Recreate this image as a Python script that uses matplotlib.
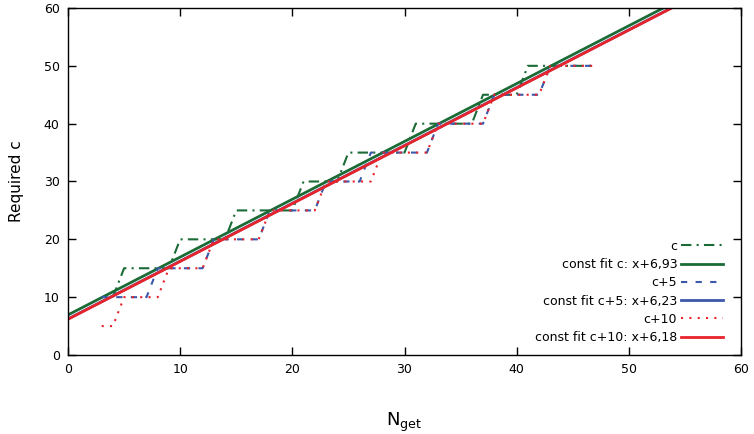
import matplotlib
matplotlib.use('Agg')
import matplotlib.pyplot as plt
import numpy as np

# corner points of the step curves (N_get, required c)
x_c = [4, 5, 9, 10, 14, 15, 20, 21, 24, 25, 30, 31, 36, 37, 40, 41, 47]
y_c = [10, 15, 15, 20, 20, 25, 25, 30, 30, 35, 35, 40, 40, 45, 45, 50, 50]

x_c5 = [3, 7, 8, 12, 13, 17, 18, 22, 23, 26, 27, 32, 33, 37, 38, 42, 43, 47]
y_c5 = [10, 10, 15, 15, 20, 20, 25, 25, 30, 30, 35, 35, 40, 40, 45, 45, 50, 50]

x_c10 = [3, 4, 5, 8, 9, 12, 13, 17, 18, 22, 23, 27, 28, 32, 33, 37, 38, 42, 43, 47]
y_c10 = [5, 5, 10, 10, 15, 15, 20, 20, 25, 25, 30, 30, 35, 35, 40, 40, 45, 45, 50, 50]

# constant fits y = x + b
fit_c = 6.93
fit_c5 = 6.23
fit_c10 = 6.18

GREEN = '#1b6b36'
BLUE = '#3b58ab'
RED = '#e8232b'

plt.rcParams['font.family'] = 'DejaVu Sans'

fig = plt.figure(figsize=(7.54, 4.34), dpi=100)
ax = fig.add_axes([68/754, 79/434, 673/754, 347/434])

xf = np.array([0, 60])
lw = 1.5

ax.plot(x_c, y_c, color=GREEN, lw=lw, ls=(0, (5, 2.5, 1, 2.5)), label='c')
ax.plot(xf, xf + fit_c, color=GREEN, lw=2, label='const fit c: x+6,93')
ax.plot(x_c5, y_c5, color=BLUE, lw=lw, ls=(0, (3, 4)), label='c+5')
ax.plot(xf, xf + fit_c5, color=BLUE, lw=2, label='const fit c+5: x+6,23')
ax.plot(x_c10, y_c10, color=RED, lw=lw, ls=(0, (1, 3)), label='c+10')
ax.plot(xf, xf + fit_c10, color=RED, lw=2, label='const fit c+10: x+6,18')

ax.set_xlim(0, 60)
ax.set_ylim(0, 60)
ax.set_xticks(range(0, 61, 10))
ax.set_yticks(range(0, 61, 10))
ax.tick_params(direction='in', length=6, width=1, top=True, right=True,
               labelsize=9, pad=6)
for s in ax.spines.values():
    s.set_linewidth(1)

ax.set_xlabel(r'N$_\mathregular{get}$', fontsize=13, labelpad=25)
ax.set_ylabel('Required c', fontsize=11, labelpad=14)

ax.legend(loc='lower right', bbox_to_anchor=(0.985, 0.01), frameon=False,
          markerfirst=False, fontsize=9, handlelength=3.4, handletextpad=0.3,
          labelspacing=0.42, borderaxespad=0.2)

fig.savefig('out.png', dpi=100)
